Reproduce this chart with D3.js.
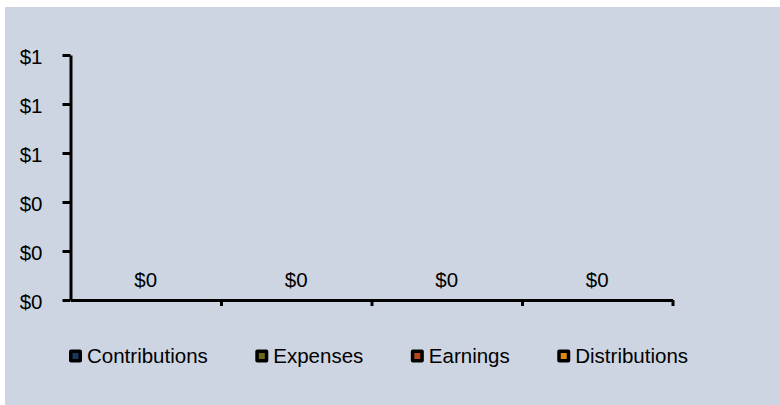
<!DOCTYPE html>
<html>
<head>
<meta charset="utf-8">
<script src="https://cdn.jsdelivr.net/npm/d3@7"></script>
<style>
  html, body { margin: 0; padding: 0; background: #ffffff; }
  svg { display: block; }
  text { font-family: "Liberation Sans", Arial, sans-serif; fill: #000; }
</style>
</head>
<body>
<svg id="chart" width="780" height="405"></svg>
<script>
// ---- data ----
const categories = ["Period 1", "Period 2", "Period 3", "Period 4"];
const seriesNames = ["Contributions", "Expenses", "Earnings", "Distributions"];
const contributions = [0, 0, 0, 0];
const expenses = [0, 0, 0, 0];
const earnings = [0, 0, 0, 0];
const distributions = [0, 0, 0, 0];
const yTicks = [0, 0.2, 0.4, 0.6, 0.8, 1.0];
const seriesColors = ["#17375e", "#6b6a18", "#b5451b", "#d98a10"];

const seriesValues = [contributions, expenses, earnings, distributions];

const svg = d3.select("#chart");
const W = 780, H = 405;
const FS = 20.5;

// background
svg.append("rect").attr("x", 5).attr("y", 7).attr("width", W - 5).attr("height", H - 7)
  .attr("fill", "#cdd5e2");

const plotLeft = 70.5, plotRight = 672.5, plotTop = 55, plotBottom = 300;

const x = d3.scaleBand().domain(categories).range([plotLeft, plotRight]).paddingInner(0.3).paddingOuter(0.15);
const xb = d3.scaleLinear().domain([0, categories.length]).range([plotLeft, plotRight]);
const y = d3.scaleLinear().domain([0, 1]).range([plotBottom, plotTop]);

// stacked bars
const rows = categories.map((c, i) => {
  const o = { cat: c };
  seriesNames.forEach((s, k) => o[s] = seriesValues[k][i]);
  return o;
});
const stack = d3.stack().keys(seriesNames)(rows);
svg.append("g").selectAll("g").data(stack).join("g")
  .attr("fill", (d, k) => seriesColors[k])
  .selectAll("rect").data(d => d).join("rect")
  .attr("x", d => x(d.data.cat))
  .attr("width", x.bandwidth())
  .attr("y", d => y(d[1]))
  .attr("height", d => y(d[0]) - y(d[1]));

// y axis
const yAxis = svg.append("g").attr("transform", `translate(${plotLeft},0)`)
  .call(d3.axisLeft(y).tickValues(yTicks).tickFormat(d3.format("$.0f")).tickSize(8).tickSizeOuter(0).tickPadding(20));
yAxis.select(".domain").attr("stroke", "#000").attr("stroke-width", 3);
yAxis.selectAll(".tick line").attr("stroke", "#000").attr("stroke-width", 3);
yAxis.selectAll(".tick text").attr("font-size", FS).attr("font-family", "Liberation Sans, Arial, sans-serif")
  .attr("fill", "#000").attr("dy", "0.42em");

// x axis
const xAxis = svg.append("g").attr("transform", `translate(0,${plotBottom})`)
  .call(d3.axisBottom(xb).tickValues(d3.range(1, categories.length + 1)).tickFormat("").tickSize(6).tickSizeOuter(0));
xAxis.select(".domain").attr("stroke", "#000").attr("stroke-width", 3);
xAxis.selectAll(".tick line").attr("stroke", "#000").attr("stroke-width", 3);

// data labels (stack totals)
const totals = categories.map((c, i) => d3.sum(seriesValues, s => s[i]));
svg.append("g").selectAll("text").data(categories).join("text")
  .attr("x", c => x(c) + x.bandwidth() / 2)
  .attr("y", (c, i) => y(totals[i]) - 13.5)
  .attr("text-anchor", "middle")
  .attr("font-size", FS)
  .text((c, i) => d3.format("$.0f")(totals[i]));

// legend
const lg = svg.append("g");
let lx = 69;
seriesNames.forEach((name, k) => {
  const g = lg.append("g").attr("transform", `translate(${lx},349.5)`);
  g.append("rect").attr("x", 0).attr("y", 0).attr("width", 13).attr("height", 13)
    .attr("rx", 2).attr("fill", "#000");
  g.append("rect").attr("x", 3.5).attr("y", 3.5).attr("width", 6).attr("height", 6)
    .attr("fill", seriesColors[k]);
  const t = g.append("text").attr("x", 18).attr("y", 13.5).attr("font-size", FS).text(name);
  lx += 18 + t.node().getComputedTextLength() + 47.5;
});
</script>
</body>
</html>
